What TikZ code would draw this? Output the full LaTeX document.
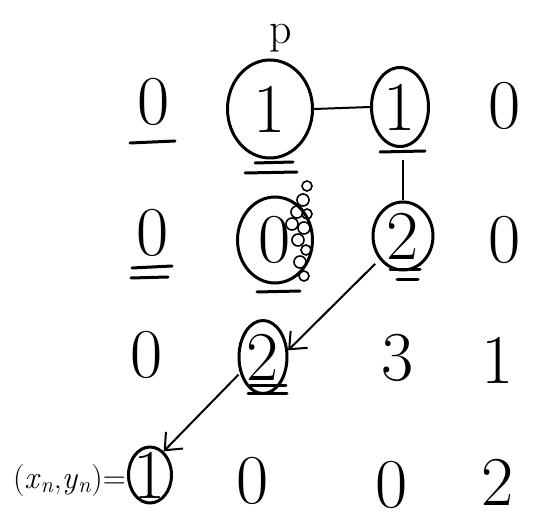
\documentclass[tikz,border=0pt]{standalone}
\usetikzlibrary{shapes.geometric,arrows.meta}
\begin{document}
\begin{tikzpicture}[x=1pt,y=-1pt,
  num/.style={font=\fontsize{70}{70}\selectfont, inner sep=0pt},
  ring/.style={num, draw, ellipse, inner sep=-10pt, line width=3pt},
  ul/.style={line width=3pt, line cap=round},
  conn/.style={line width=2pt},
  arr/.style={conn, -{Straight Barb[length=14pt,width=24pt,line width=2pt]}},
  bub/.style={line width=1.6pt}]
\useasboundingbox (0,0) rectangle (546,526);
% row 1
\node[num] (a1) at (154,102) {0};
\node[ring, minimum width=85pt, minimum height=98pt] (a2) at (270,109) {1};
\node[ring, minimum width=57pt, minimum height=79pt] (a3) at (400,107) {1};
\node[num] (a4) at (505,106) {0};
\node[font=\fontsize{44}{44}\selectfont, inner sep=0pt] (p) at (281,38) {p};
% row 2
\node[num] (b1) at (153,233) {0};
\node[ring, minimum width=75pt, minimum height=86pt] (b2) at (275,240) {0};
\node[ring, minimum width=60pt, minimum height=68pt] (b3) at (403,236) {2};
\node[num] (b4) at (505,240) {0};
% row 3
\node[num] (c1) at (147,355) {0};
\node[ring, minimum width=48pt, minimum height=73pt] (c2) at (263,357) {2};
\node[num] (c3) at (398,358) {3};
\node[num] (c4) at (498,360) {1};
% row 4
\node[ring, minimum width=43pt, minimum height=56pt] (d1) at (150,475) {1};
\node[num] (d2) at (253,481) {0};
\node[num] (d3) at (392,485) {0};
\node[num] (d4) at (498,482) {2};
\node[font=\fontsize{32}{32}\selectfont, inner sep=0pt, anchor=east] (lab) at ([xshift=-1pt,yshift=-6pt]d1.west)
  {(\textit{x}\textsubscript{\textit{n}},\textit{y}\textsubscript{\textit{n}})=};
% underlines
\draw[ul] (130,143) -- (175,141);
\draw[ul] (255,163) -- (293,162);
\draw[ul] (245,173) -- (297,172);
\draw[ul] (380,152) -- (425,151);
\draw[ul] (132,268) -- (172,266);
\draw[ul] (131,278) -- (168,277);
\draw[ul] (257,292) -- (300,291);
\draw[ul] (390,270) -- (420,270);
\draw[ul] (397,280) -- (418,280);
\draw[ul] (250,385) -- (286,385);
\draw[ul] (248,393) -- (287,393);
% scribble bubbles on b2
\foreach \bx/\by/\br in {307/186/5,303/200/6,297/212/6,307/214/5,292/224/6,304/228/6,298/240/6,306/250/5,300/262/6,304/276/5}
  \draw[bub] (\bx,\by) circle[radius=\br];
% connectors
\draw[conn] (a2.east) -- (a3.west);
\draw[conn, shorten <=12pt] (b3.north |- a3.south) -- (b3.north);
\draw[arr, shorten <=6pt] (b3.225) -- (c2.15);
\draw[arr, shorten <=2pt] (c2.215) -- (d1.60);
\end{tikzpicture}
\end{document}
